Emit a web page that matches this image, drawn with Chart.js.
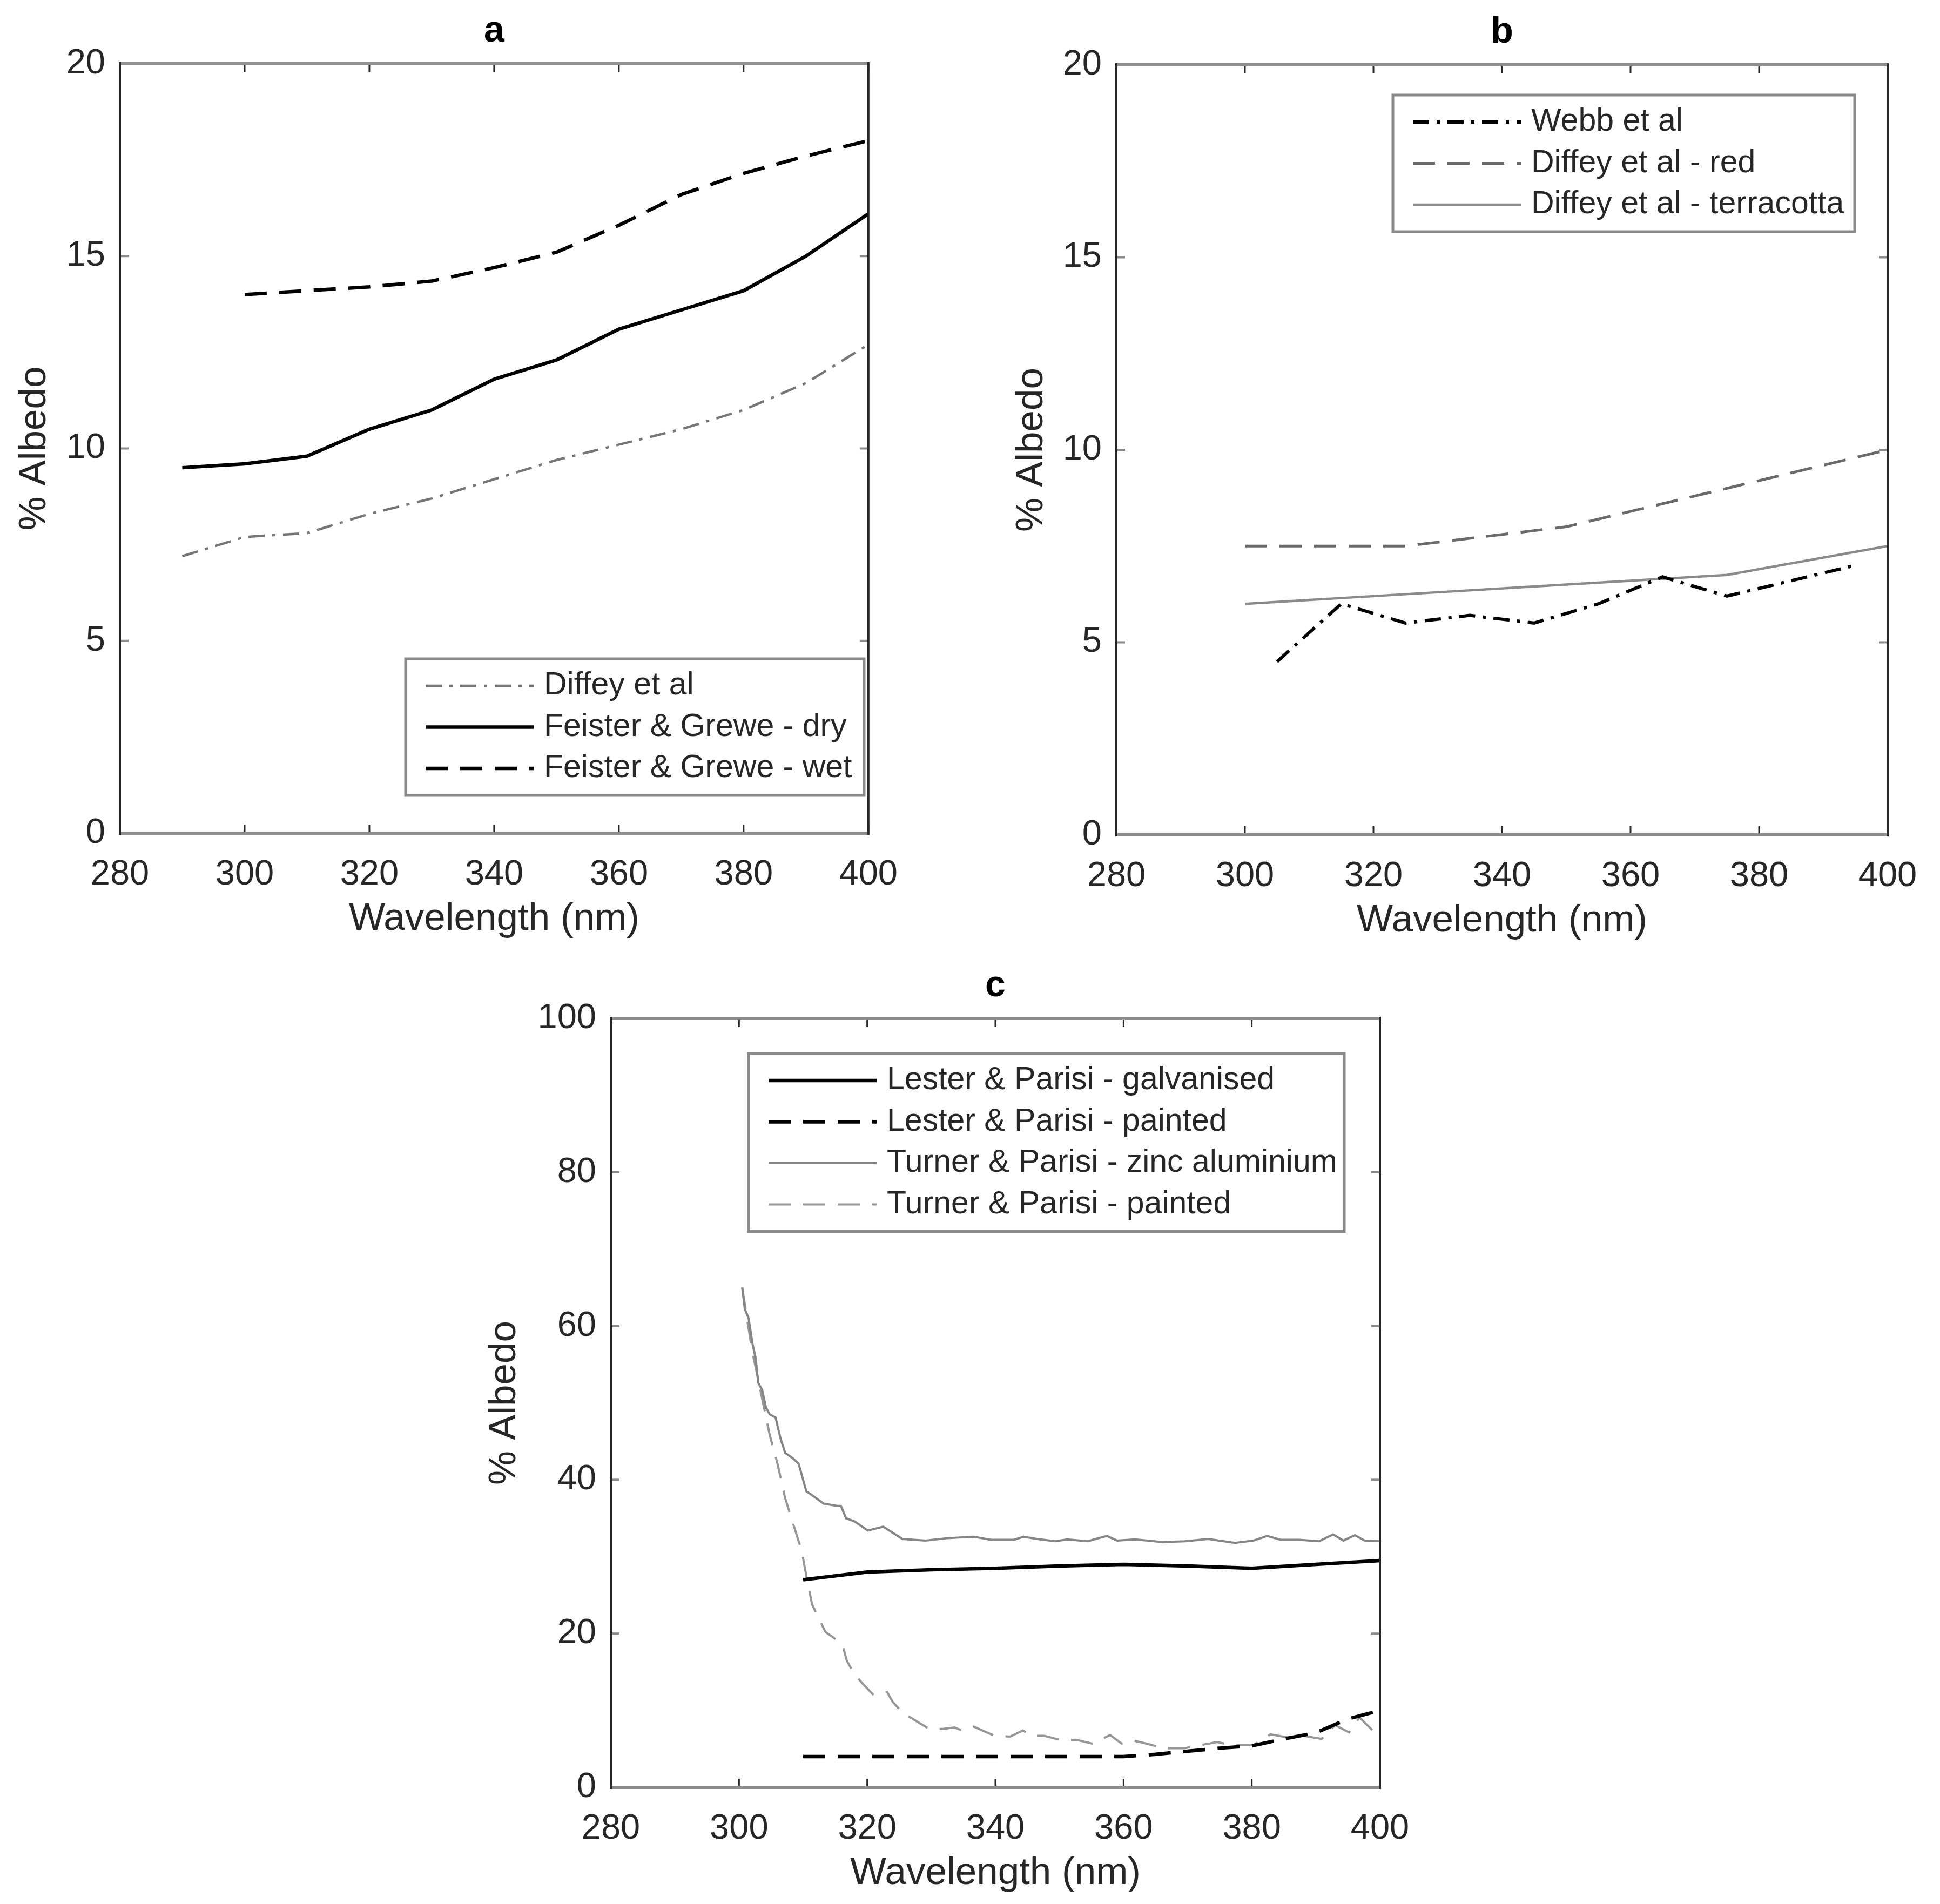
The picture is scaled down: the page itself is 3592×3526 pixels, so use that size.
<!DOCTYPE html>
<html>
<head>
<meta charset="utf-8">
<title>% Albedo by wavelength</title>
<script src="https://cdn.jsdelivr.net/npm/chart.js@4.4.0/dist/chart.umd.min.js"></script>
<style>
  html, body { margin: 0; padding: 0; background: #fff; }
  body { width: 3592px; height: 3526px; position: relative; overflow: hidden; }
  .panel { position: absolute; }
</style>
</head>
<body>
<div class="panel" style="left:0px;top:0px;width:1700px;height:1760px"><canvas id="chartA"></canvas></div>
<div class="panel" style="left:1840px;top:0px;width:1752px;height:1763px"><canvas id="chartB"></canvas></div>
<div class="panel" style="left:850px;top:1768px;width:1850px;height:1759px"><canvas id="chartC"></canvas></div>
<script>
// tick labels
const xTicks = [280, 300, 320, 340, 360, 380, 400];
const yTicksAB = [0, 5, 10, 15, 20];
const yTicksC = [0, 20, 40, 60, 80, 100];

// panel a
const wavelengthA = [290, 300, 310, 320, 330, 340, 350, 360, 370, 380, 390, 400];
const diffeyA = [7.2, 7.7, 7.8, 8.3, 8.7, 9.2, 9.7, 10.1, 10.5, 11.0, 11.7, 12.7];
const feisterDry = [9.5, 9.6, 9.8, 10.5, 11.0, 11.8, 12.3, 13.1, 13.6, 14.1, 15.0, 16.1];
const feisterWet = [null, 14.0, 14.1, 14.2, 14.35, 14.7, 15.1, 15.8, 16.6, 17.15, 17.6, 18.0];

// panel b
const wavelengthB = [300, 325, 350, 375, 400];
const diffeyRed = [7.5, 7.5, 8.0, 9.0, 10.0];
const diffeyTerracotta = [6.0, 6.25, 6.5, 6.75, 7.5];
const wavelengthWebb = [305, 315, 325, 335, 345, 355, 365, 375, 385, 395];
const webb = [4.5, 6.0, 5.5, 5.7, 5.5, 6.0, 6.7, 6.2, 6.6, 7.0];

// panel c
const wavelengthGalv = [310, 320, 330, 340, 350, 360, 370, 380, 390, 400];
const lesterGalvanised = [27.0, 28.0, 28.3, 28.5, 28.8, 29.0, 28.8, 28.5, 29.0, 29.5];
const wavelengthLesterPainted = [310, 320, 330, 340, 350, 360, 365, 370, 375, 380, 385, 390, 395, 400];
const lesterPainted = [4.0, 4.0, 4.0, 4.0, 4.0, 4.0, 4.3, 4.7, 5.1, 5.4, 6.3, 7.1, 8.9, 10.0];
const wavelengthZinc = [300.5, 300.9, 301.5, 302.1, 302.6, 303.0, 303.6, 304.2, 304.8, 305.7, 306.5, 307.2,
  308.4, 309.3, 310.5, 311.4, 313.2, 315.3, 315.9, 316.7, 318.0, 320.1, 322.5, 325.5, 329.1, 332.4, 336.6,
  339.3, 342.9, 344.4, 346.5, 349.4, 351.2, 354.4, 355.4, 357.4, 359.0, 361.8, 366.1, 369.6, 373.2, 377.4,
  380.3, 382.4, 384.5, 387.4, 390.5, 392.7, 394.3, 396.1, 397.6, 400];
const turnerZinc = [65.0, 62.2, 61.0, 57.7, 55.8, 52.6, 51.7, 49.4, 48.5, 48.1, 45.3, 43.5,
  42.8, 42.1, 38.5, 38.0, 36.9, 36.6, 36.6, 35.0, 34.6, 33.4, 33.9, 32.3, 32.1, 32.4, 32.6,
  32.2, 32.2, 32.6, 32.3, 32.0, 32.25, 32.0, 32.25, 32.7, 32.1, 32.25, 31.9, 32.0, 32.3, 31.8,
  32.1, 32.7, 32.2, 32.2, 32.0, 32.9, 32.1, 32.8, 32.1, 32.0];
const wavelengthTurnerPainted = [300.5, 302.0, 303.5, 304.8, 306.0, 307.2, 308.4, 309.8, 310.5, 311.4, 312.3,
  313.5, 314.7, 316.2, 316.8, 318.0, 319.5, 321.0, 323.1, 324.0, 325.5, 327.9, 329.7, 331.8, 333.6, 334.8,
  336.6, 339.9, 342.3, 344.3, 345.6, 347.6, 350.5, 352.6, 355.1, 357.9, 359.7, 361.5, 364.0, 366.1, 369.6,
  372.1, 374.6, 376.7, 380.3, 382.9, 385.6, 388.1, 390.9, 393.0, 395.2, 396.8, 399.1, 400];
const turnerPainted = [65, 57, 51, 45.8, 42.1, 37.6, 34.4, 30.7, 27.5, 23.8, 22.2,
  20.2, 19.5, 18.4, 16.5, 14.7, 13.3, 12.0, 12.4, 11.1, 9.7, 8.5, 7.6, 7.6, 7.8, 7.4,
  7.9, 6.7, 6.6, 7.4, 6.7, 6.7, 6.1, 6.2, 5.7, 6.8, 5.7, 6.1, 5.6, 5.1, 5.1,
  5.5, 5.9, 5.5, 5.5, 6.9, 6.5, 6.7, 6.3, 8.1, 7.15, 9.1, 7.2, 7.5];

const FONT = "'Liberation Sans', Arial, Helvetica, sans-serif";
const TEXT = '#262626';
const DASH = [41, 23];
const DASHDOT = [30, 14, 6, 14];

function toPoints(xs, ys) {
  return xs.map((x, i) => ({ x: x, y: ys[i] })).filter(p => p.y !== null);
}

function line(label, xs, ys, color, width, dash) {
  return {
    label: label,
    data: toPoints(xs, ys),
    borderColor: color,
    borderWidth: width,
    borderDash: dash || [],
    pointRadius: 0,
    tension: 0,
    fill: false
  };
}

// inward ticks and the box round the axes
const axesFrame = {
  id: 'axesFrame',
  afterDatasetsDraw(chart) {
    const { ctx, chartArea, scales } = chart;
    const { left, right, top, bottom } = chartArea;
    const seg = (x1, y1, x2, y2) => { ctx.beginPath(); ctx.moveTo(x1, y1); ctx.lineTo(x2, y2); ctx.stroke(); };
    ctx.save();
    ctx.strokeStyle = TEXT;
    ctx.lineWidth = 3;
    scales.x.ticks.forEach(t => {
      const px = scales.x.getPixelForValue(t.value);
      seg(px, bottom, px, bottom - 16);
      seg(px, top, px, top + 16);
    });
    ctx.strokeStyle = '#8c8c8c';
    ctx.lineWidth = 4;
    scales.y.ticks.forEach(t => {
      const py = scales.y.getPixelForValue(t.value);
      seg(left, py, left + 16, py);
      seg(right, py, right - 16, py);
    });
    ctx.strokeStyle = '#8f8f8f';
    ctx.lineWidth = 6;
    seg(left, top, right, top);
    seg(left, bottom, right, bottom);
    ctx.strokeStyle = TEXT;
    ctx.lineWidth = 4;
    seg(left, top - 3, left, bottom + 3);
    seg(right, top - 3, right, bottom + 3);
    ctx.restore();
  }
};

// legend box drawn inside the plot
const boxLegend = {
  id: 'boxLegend',
  afterDatasetsDraw(chart, args, opts) {
    const { ctx, chartArea } = chart;
    const x0 = chartArea.left + opts.left;
    const y0 = chartArea.top + opts.top;
    const sets = chart.data.datasets;
    const h = 100 + (sets.length - 1) * 76.5;
    ctx.save();
    ctx.fillStyle = '#fff';
    ctx.fillRect(x0, y0, opts.width, h);
    ctx.strokeStyle = '#8a8a8a';
    ctx.lineWidth = 5;
    ctx.strokeRect(x0, y0, opts.width, h);
    ctx.font = '59px ' + FONT;
    ctx.textBaseline = 'middle';
    sets.forEach((ds, i) => {
      const y = y0 + 50 + i * 76.5;
      ctx.beginPath();
      ctx.setLineDash(ds.borderDash || []);
      ctx.strokeStyle = ds.borderColor;
      ctx.lineWidth = ds.borderWidth;
      ctx.moveTo(x0 + 37, y);
      ctx.lineTo(x0 + 237, y);
      ctx.stroke();
      ctx.setLineDash([]);
      ctx.fillStyle = TEXT;
      ctx.fillText(ds.label, x0 + 256, y);
    });
    ctx.restore();
  }
};

const panelTitle = {
  id: 'panelTitle',
  afterDraw(chart, args, opts) {
    const { ctx, chartArea } = chart;
    ctx.save();
    ctx.font = 'bold 68px ' + FONT;
    ctx.fillStyle = '#000';
    ctx.textAlign = 'center';
    ctx.textBaseline = 'alphabetic';
    ctx.fillText(opts.text, (chartArea.left + chartArea.right) / 2, chartArea.top - 41);
    ctx.restore();
  }
};

function makeChart(id, datasets, g) {
  return new Chart(document.getElementById(id), {
    type: 'line',
    data: { datasets: datasets },
    options: {
      responsive: true,
      maintainAspectRatio: false,
      devicePixelRatio: 1,
      animation: false,
      events: [],
      layout: { padding: g.padding },
      plugins: {
        legend: { display: false },
        tooltip: { enabled: false },
        boxLegend: g.legend,
        panelTitle: { text: g.title }
      },
      scales: {
        x: {
          type: 'linear',
          min: 280,
          max: 400,
          afterBuildTicks: s => { s.ticks = xTicks.map(v => ({ value: v })); },
          afterFit: s => { s.height = 217; },
          grid: { display: false, drawTicks: false },
          border: { display: false },
          ticks: { color: TEXT, font: { family: FONT, size: 65 }, padding: 38, maxRotation: 0, autoSkip: false },
          title: {
            display: true, text: 'Wavelength (nm)', color: TEXT,
            font: { family: FONT, size: 71, lineHeight: 1.2 }, padding: { top: 0, bottom: 15 }
          }
        },
        y: {
          type: 'linear',
          min: 0,
          max: g.yMax,
          afterBuildTicks: s => { s.ticks = g.yTicks.map(v => ({ value: v })); },
          afterFit: s => { s.width = g.yWidth; },
          grid: { display: false, drawTicks: false },
          border: { display: false },
          ticks: { color: TEXT, font: { family: FONT, size: 65 }, padding: 27, autoSkip: false },
          title: {
            display: true, text: '% Albedo', color: TEXT,
            font: { family: FONT, size: 71, lineHeight: 1.2 }, padding: { top: g.yTitlePad, bottom: 0 }
          }
        }
      }
    },
    plugins: [axesFrame, boxLegend, panelTitle]
  });
}

makeChart('chartA', [
  line('Diffey et al', wavelengthA, diffeyA, '#767676', 4.5, DASHDOT),
  line('Feister & Grewe - dry', wavelengthA, feisterDry, '#000', 6.5),
  line('Feister & Grewe - wet', wavelengthA, feisterWet, '#000', 6.5, DASH)
], {
  title: 'a', yMax: 20, yTicks: yTicksAB, yWidth: 222, yTitlePad: 22,
  padding: { top: 118, right: 52, bottom: 0, left: 0 },
  legend: { left: 529, top: 1102, width: 849 }
});

makeChart('chartB', [
  line('Webb et al', wavelengthWebb, webb, '#000', 6, DASHDOT),
  line('Diffey et al - red', wavelengthB, diffeyRed, '#6a6a6a', 5, DASH),
  line('Diffey et al - terracotta', wavelengthB, diffeyTerracotta, '#8a8a8a', 4.5)
], {
  title: 'b', yMax: 20, yTicks: yTicksAB, yWidth: 227, yTitlePad: 28,
  padding: { top: 120, right: 97, bottom: 0, left: 0 },
  legend: { left: 512, top: 56, width: 855 }
});

makeChart('chartC', [
  line('Lester & Parisi - galvanised', wavelengthGalv, lesterGalvanised, '#000', 6.5),
  line('Lester & Parisi - painted', wavelengthLesterPainted, lesterPainted, '#000', 6.5, DASH),
  line('Turner & Parisi - zinc aluminium', wavelengthZinc, turnerZinc, '#858585', 4),
  line('Turner & Parisi - painted', wavelengthTurnerPainted, turnerPainted, '#969696', 4, DASH)
], {
  title: 'c', yMax: 100, yTicks: yTicksC, yWidth: 281, yTitlePad: 42,
  padding: { top: 118, right: 145, bottom: 0, left: 0 },
  legend: { left: 255, top: 65, width: 1103 }
});
</script>
</body>
</html>
